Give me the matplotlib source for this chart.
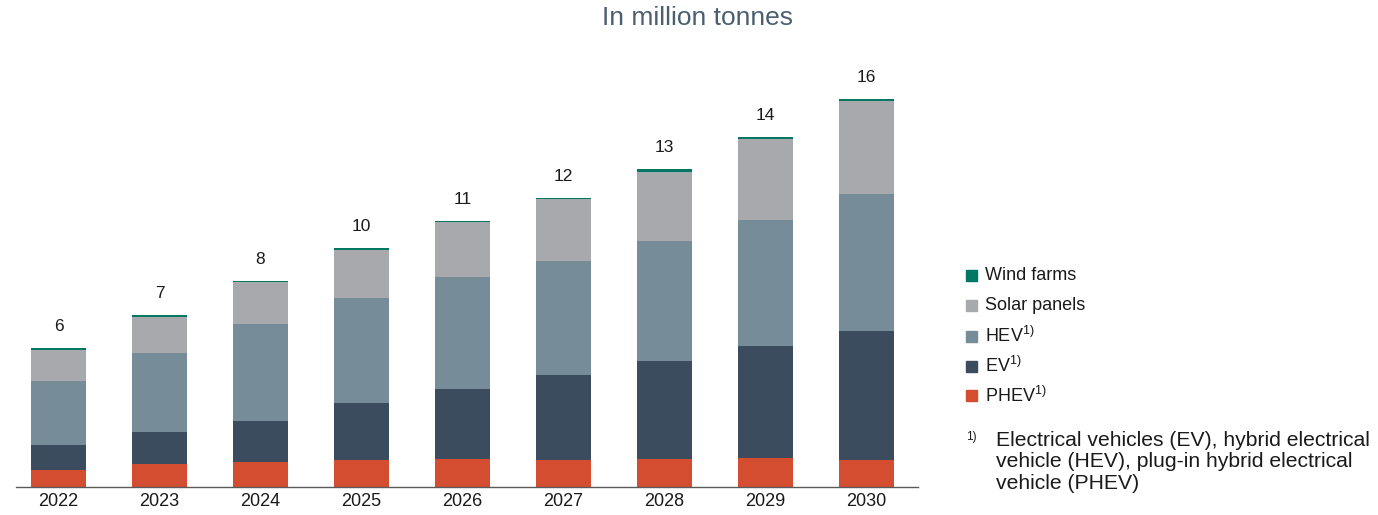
import matplotlib
matplotlib.use("Agg")
from matplotlib import pyplot as plt
from matplotlib.patches import Rectangle
import numpy as np

plt.rcParams['font.family'] = ['Liberation Sans', 'DejaVu Sans']
plt.rcParams['mathtext.default'] = 'regular'

years = ['2022', '2023', '2024', '2025', '2026', '2027', '2028', '2029', '2030']
totals_label = [6, 7, 8, 10, 11, 12, 13, 14, 16]

# stacked values, bottom to top (million tonnes)
phev = [0.72, 0.95, 1.05, 1.10, 1.15, 1.10, 1.15, 1.19, 1.10]
ev = [1.03, 1.31, 1.69, 2.35, 2.89, 3.51, 4.04, 4.62, 5.32]
hev = [2.64, 3.26, 4.00, 4.36, 4.61, 4.73, 4.94, 5.22, 5.68]
solar = [1.27, 1.50, 1.70, 1.97, 2.26, 2.52, 2.86, 3.31, 3.81]
wind = [0.06, 0.07, 0.04, 0.06, 0.06, 0.07, 0.11, 0.11, 0.10]

series = [
    ('PHEV$^{1)}$', phev, '#d54d30'),
    ('EV$^{1)}$', ev, '#3a4c5e'),
    ('HEV$^{1)}$', hev, '#778c99'),
    ('Solar panels', solar, '#a8a9ad'),
    ('Wind farms', wind, '#007864'),
]

W, H = 1378, 515
fig = plt.figure(figsize=(W / 100, H / 100), dpi=100)
ax = fig.add_axes([16 / W, (H - 487) / H, (918 - 16) / W, 437 / H])

x = np.arange(len(years))
bottom = np.zeros(len(years))
for name, vals, col in series:
    vals = np.array(vals)
    ax.bar(x, vals, width=0.545, bottom=bottom, color=col,
           edgecolor='none', linewidth=0)
    bottom += vals

for xi, tot, lab in zip(x, bottom, totals_label):
    ax.annotate(str(lab), (xi, tot), xytext=(0, 10), textcoords='offset points',
                ha='center', va='bottom', fontsize=12.5, color='#1a1a1a')

ax.set_xlim(-0.421, 8.51)
ax.set_ylim(0, 437 / 24.25)
for s in ['left', 'right', 'top']:
    ax.spines[s].set_visible(False)
ax.spines['bottom'].set_color('#5a5a5a')
ax.spines['bottom'].set_linewidth(1.0)
ax.set_yticks([])
ax.set_xticks(x)
ax.set_xticklabels(years, fontsize=13, color='#1a1a1a')
ax.tick_params(axis='x', length=0, pad=4)

fig.text(698 / W, 1 - 18 / H, 'In million tonnes', ha='center', va='center',
         fontsize=19, color='#4b5f71')

# legend, top entry first
row_y = [275, 305.5, 336, 366, 395.5]
for (name, vals, col), yy in zip(series[::-1], row_y):
    fig.patches.append(Rectangle((966 / W, 1 - (yy + 5.5) / H), 11 / W, 11 / H,
                                 transform=fig.transFigure, color=col))
    fig.text(985 / W, 1 - yy / H, name, ha='left', va='center',
             fontsize=13, color='#1a1a1a')

fig.text(966 / W, 1 - 437 / H, '1)', ha='left', va='center', fontsize=8.5,
         color='#1a1a1a')
fig.text(996 / W, 1 - 431 / H,
         'Electrical vehicles (EV), hybrid electrical\n'
         'vehicle (HEV), plug-in hybrid electrical\n'
         'vehicle (PHEV)',
         ha='left', va='top', fontsize=15.2, linespacing=1.16, color='#1a1a1a')

fig.savefig('out.png', dpi=100)
